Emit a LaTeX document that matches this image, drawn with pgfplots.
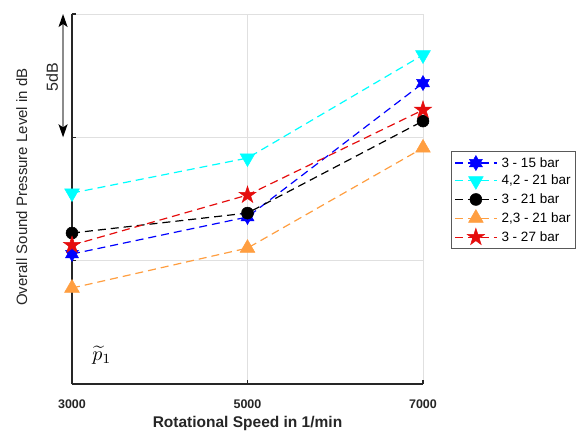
\documentclass[border=0pt]{standalone}
\usepackage{fontspec}
\setmainfont{Liberation Sans}
\usepackage{pgfplots}
\pgfplotsset{compat=1.18}
\usetikzlibrary{arrows.meta}

\definecolor{cblue}{rgb}{0,0,1}
\definecolor{ccyan}{rgb}{0,1,1}
\definecolor{corange}{rgb}{1,0.62,0.25}
\definecolor{cred}{rgb}{0.9,0.05,0.05}
\definecolor{axcol}{rgb}{0.15,0.15,0.15}

\pgfdeclareplotmark{hexagram}{%
  \pgfpathmoveto{\pgfpointpolar{90}{\pgfplotmarksize}}%
  \pgfpathlineto{\pgfpointpolar{120}{0.577\pgfplotmarksize}}%
  \pgfpathlineto{\pgfpointpolar{150}{\pgfplotmarksize}}%
  \pgfpathlineto{\pgfpointpolar{180}{0.577\pgfplotmarksize}}%
  \pgfpathlineto{\pgfpointpolar{210}{\pgfplotmarksize}}%
  \pgfpathlineto{\pgfpointpolar{240}{0.577\pgfplotmarksize}}%
  \pgfpathlineto{\pgfpointpolar{270}{\pgfplotmarksize}}%
  \pgfpathlineto{\pgfpointpolar{300}{0.577\pgfplotmarksize}}%
  \pgfpathlineto{\pgfpointpolar{330}{\pgfplotmarksize}}%
  \pgfpathlineto{\pgfpointpolar{0}{0.577\pgfplotmarksize}}%
  \pgfpathlineto{\pgfpointpolar{30}{\pgfplotmarksize}}%
  \pgfpathlineto{\pgfpointpolar{60}{0.577\pgfplotmarksize}}%
  \pgfpathclose
  \pgfusepathqfillstroke
}
\pgfdeclareplotmark{pentagram}{%
  \pgfpathmoveto{\pgfpointpolar{90}{\pgfplotmarksize}}%
  \pgfpathlineto{\pgfpointpolar{126}{0.382\pgfplotmarksize}}%
  \pgfpathlineto{\pgfpointpolar{162}{\pgfplotmarksize}}%
  \pgfpathlineto{\pgfpointpolar{198}{0.382\pgfplotmarksize}}%
  \pgfpathlineto{\pgfpointpolar{234}{\pgfplotmarksize}}%
  \pgfpathlineto{\pgfpointpolar{270}{0.382\pgfplotmarksize}}%
  \pgfpathlineto{\pgfpointpolar{306}{\pgfplotmarksize}}%
  \pgfpathlineto{\pgfpointpolar{342}{0.382\pgfplotmarksize}}%
  \pgfpathlineto{\pgfpointpolar{18}{\pgfplotmarksize}}%
  \pgfpathlineto{\pgfpointpolar{54}{0.382\pgfplotmarksize}}%
  \pgfpathclose
  \pgfusepathqfillstroke
}

\begin{document}
\begin{tikzpicture}
\begin{axis}[
  scale only axis,
  width=351pt, height=370pt,
  xmin=3000, xmax=7000, ymin=0, ymax=15,
  axis lines*=left,
  clip=false,
  xtick={3000,5000,7000},
  ytick={5,10,15},
  yticklabels={},
  grid=major,
  major grid style={draw=black!12, line width=0.7pt},
  axis line style={line width=2.4pt, draw=axcol},
  tick align=inside,
  major tick length=4pt,
  major tick style={line width=1.6pt, draw=axcol},
  /pgf/number format/1000 sep={},
  /pgf/number format/assume math mode=true,
  xticklabel style={font=\bfseries\fontsize{12.5}{14}\selectfont, text=axcol, yshift=-12pt},
  xlabel={Rotational Speed in 1/min},
  xlabel style={at={(axis description cs:0.5,-0.108)}, anchor=center,
    font=\bfseries\fontsize{15.5}{18}\selectfont, text=axcol},
  ylabel={Overall Sound Pressure Level in dB},
  ylabel style={at={(axis description cs:-0.143,0.532)}, anchor=center,
    font=\fontsize{15}{18}\selectfont, text=axcol},
  legend style={at={(1.0795,0.6297)}, anchor=north west,
    font=\fontsize{13.5}{15}\selectfont, draw=black!65, line width=0.8pt,
    inner xsep=3pt, inner ysep=4pt, row sep=2.5pt,
    /tikz/every odd column/.append style={column sep=2pt}},
  legend cell align=left,
  legend image code/.code={%
    \draw[mark repeat=2,mark phase=2] plot coordinates {(0pt,0pt) (21pt,0pt) (42pt,0pt)};},
  every axis plot/.append style={line width=1.2pt, dash pattern=on 8pt off 5pt},
]
\addplot[cblue, mark=hexagram, mark size=7.5pt, mark options={solid, fill=cblue, line width=0.5pt}]
  coordinates {(3000,5.27) (5000,6.77) (7000,12.20)};
\addlegendentry{3 - 15 bar}
\addplot[ccyan, mark=triangle*, mark size=8.5pt, mark options={solid, rotate=180, fill=ccyan, line width=0.5pt}]
  coordinates {(3000,7.74) (5000,9.16) (7000,13.34)};
\addlegendentry{4,2 - 21 bar}
\addplot[black, mark=*, mark size=6pt, mark options={solid, fill=black, line width=0.5pt}]
  coordinates {(3000,6.12) (5000,6.93) (7000,10.66)};
\addlegendentry{3 - 21 bar}
\addplot[corange, mark=triangle*, mark size=8.5pt, mark options={solid, fill=corange, line width=0.5pt}]
  coordinates {(3000,3.89) (5000,5.51) (7000,9.57)};
\addlegendentry{2,3 - 21 bar}
\addplot[cred, mark=pentagram, mark size=9pt, mark options={solid, fill=cred, line width=0.5pt}]
  coordinates {(3000,5.63) (5000,7.66) (7000,11.11)};
\addlegendentry{3 - 27 bar}

\draw[draw=black!45, line width=1.3pt, solid,
  {Stealth[black, length=13pt, width=9pt, inset=3pt]}-{Stealth[black, length=13pt, width=9pt, inset=3pt]}]
  (axis cs:2898,10) -- (axis cs:2898,15);
\node[rotate=90, font=\fontsize{16}{18}\selectfont, text=axcol] at (axis cs:2773,12.45) {5dB};
\node[scale=2, inner sep=0pt] at (axis cs:3341,1.18) {$\widetilde{p}_1$};
\end{axis}
\pgfresetboundingbox
\path (-72pt,-50pt) rectangle (512pt,384pt);
\end{tikzpicture}
\end{document}
